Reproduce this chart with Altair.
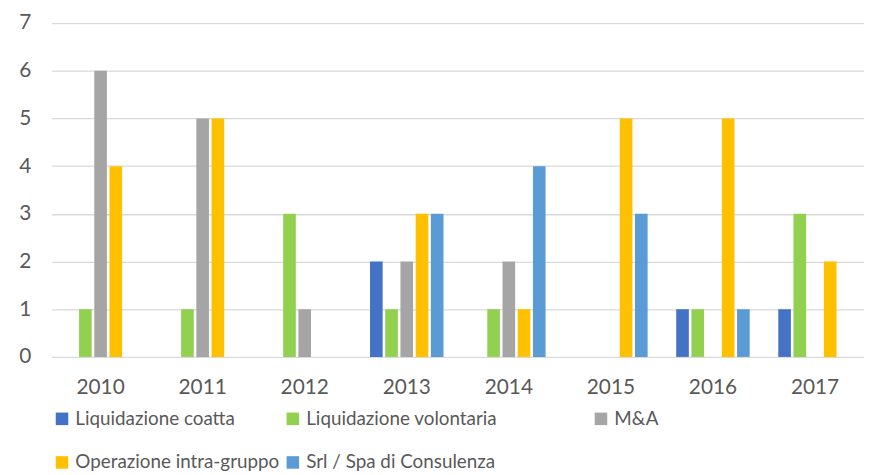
import altair as alt
import pandas as pd

years = ["2010", "2011", "2012", "2013", "2014", "2015", "2016", "2017"]
series = ["Liquidazione coatta", "Liquidazione volontaria", "M&A",
          "Operazione intra-gruppo", "Srl / Spa di Consulenza"]
colors = ["#4472C4", "#92D050", "#A5A5A5", "#FFC000", "#5B9BD5"]

coatta = [0, 0, 0, 2, 0, 0, 1, 1]
volontaria = [1, 1, 3, 1, 1, 0, 1, 3]
ma = [6, 5, 1, 2, 2, 0, 0, 0]
intra = [4, 5, 0, 3, 1, 5, 5, 2]
srl = [0, 0, 0, 3, 4, 3, 1, 0]

values = [coatta, volontaria, ma, intra, srl]
rows = []
for s, vals in zip(series, values):
    for y, v in zip(years, vals):
        rows.append({"Anno": y, "Serie": s, "Valore": v})
df = pd.DataFrame(rows)

FONT = "Lato"
GREY = "#595959"

x = alt.X("Anno:N", sort=years, title=None,
          scale=alt.Scale(paddingInner=0.28, paddingOuter=0.12),
          axis=alt.Axis(labelAngle=0, domain=False, ticks=False, labelPadding=20,
                        labelFont=FONT, labelFontSize=21, labelColor=GREY, grid=False))
y = alt.Y("Valore:Q", title=None,
          scale=alt.Scale(domain=[0, 7], nice=False),
          axis=alt.Axis(values=[0, 1, 2, 3, 4, 5, 6, 7], domain=False, ticks=False,
                        labelPadding=21, labelFont=FONT, labelFontSize=21,
                        labelColor=GREY, gridColor="#D9D9D9", gridWidth=1.3))
xo = alt.XOffset("Serie:N", scale=alt.Scale(domain=series, paddingInner=0.17, paddingOuter=0))

groups = [
    ([series[0], series[3]], [colors[0], colors[3]], 1),
    ([series[1], series[4]], [colors[1], colors[4]], 234),
    ([series[2]], [colors[2]], 545),
]

layers = []
for dom, rng, lx in groups:
    layers.append(
        alt.Chart(df).mark_bar().encode(
            x=x, y=y, xOffset=xo,
            color=alt.Color("Serie:N", scale=alt.Scale(domain=dom, range=rng),
                            legend=alt.Legend(title=None, orient="none", legendX=lx, legendY=390,
                                              direction="vertical", rowPadding=24, padding=0,
                                              symbolType="square", symbolSize=160,
                                              symbolStrokeWidth=0, labelOffset=4,
                                              labelFont=FONT, labelFontSize=19,
                                              labelColor=GREY, labelLimit=400)),
        ).transform_filter(alt.FieldOneOfPredicate(field="Serie", oneOf=dom))
    )

chart = alt.layer(*layers).resolve_scale(color="independent").properties(
    width=820, height=337,
    autosize=alt.AutoSizeParams(type="none"),
    padding={"left": 44, "top": 13, "right": 0, "bottom": 117},
).configure_view(stroke=None)

chart.save("out.html", embed_options={"renderer": "svg", "actions": False})
